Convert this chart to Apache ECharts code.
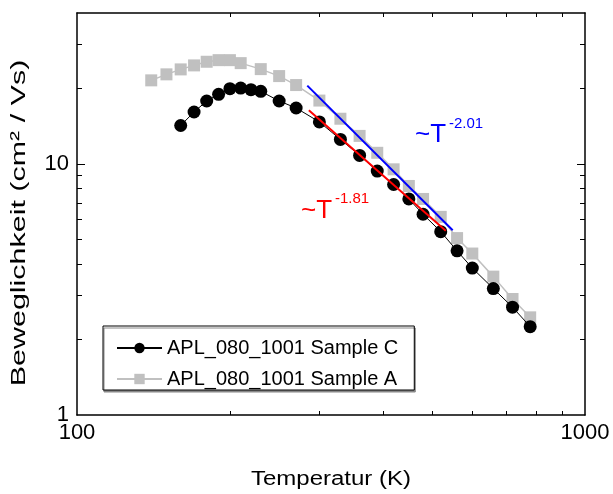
<!DOCTYPE html>
<html>
<head>
<meta charset="utf-8">
<script src="https://cdn.jsdelivr.net/npm/echarts@6/dist/echarts.min.js"></script>
<style>html,body{margin:0;padding:0;background:#fff;}#chart{width:613px;height:494px;}</style>
</head>
<body>
<div id="chart"></div>
<script>
// Sample C (black circles)
const tempC = [160,170,180,190,200,210,220,230,250,270,300,330,360,390,420,450,480,520,560,600,660,720,780];
const muC = [14.25,16.13,17.84,18.97,19.98,20.09,19.80,19.50,17.84,16.73,14.72,12.54,10.83,9.38,8.29,7.26,6.31,5.38,4.51,3.85,3.19,2.69,2.25];
// Sample A (grey squares)
const tempA = [140,150,160,170,180,190,200,210,230,250,270,300,330,360,390,420,450,480,520,560,600,660,720,780];
const muA = [21.56,22.78,23.84,24.73,25.57,25.95,25.95,25.25,23.9,22.42,20.65,17.91,15.16,12.95,11.09,9.53,8.18,7.26,6.16,5.07,4.40,3.56,2.90,2.45];
// Power-law fit lines (endpoints)
const fitBlueT = [284, 549];
const fitBlueMu = [20.54, 5.45];
const fitRedT = [286, 532];
const fitRedMu = [16.39, 5.42];
// ticks
const xLabels = [100, 1000];
const xMinor = [200,300,400,500,600,700,800,900];
const yLabels = [1, 10];
const yMajor = [10];
const yMinor = [2,3,4,5,6,7,8,9,20,30];
const seriesNames = ['APL_080_1001 Sample C', 'APL_080_1001 Sample A'];
const xTitle = 'Temperatur (K)';
const yTitle = 'Beweglichkeit (cm² / Vs)';
const fitLabels = [{base:'~T', exp:'-2.01'}, {base:'~T', exp:'-1.81'}];

const FONT = 'Liberation Sans, Arial, sans-serif';
const zip = (a, b) => a.map((v, i) => [v, b[i]]);

function xAx(pos, withLabels) {
  return {
    type: 'log', logBase: 10, min: 100, max: 1000, position: pos,
    gridIndex: 0,
    axisLine: {show: true, lineStyle: {color: '#000', width: 1.5}},
    axisTick: {show: true, inside: true, length: 4, customValues: xMinor, lineStyle: {color: '#000', width: 1}},
    axisLabel: withLabels ? {show: true, customValues: xLabels, fontSize: 22, color: '#000', fontFamily: FONT, margin: 7, formatter: v => String(v)} : {show: false},
    splitLine: {show: false},
    minorTick: {show: false}
  };
}
function yAx(pos, ticks, len, withLabels, showLine) {
  return {
    type: 'log', logBase: 10, min: 1, max: 40, position: pos,
    gridIndex: 0,
    axisLine: {show: showLine, lineStyle: {color: '#000', width: 1.5}},
    axisTick: {show: true, inside: true, length: len, customValues: ticks, lineStyle: {color: '#000', width: 1}},
    axisLabel: withLabels ? {show: true, customValues: yLabels, fontSize: 22, color: '#000', fontFamily: FONT, margin: 8, formatter: v => String(v)} : {show: false},
    splitLine: {show: false}
  };
}

const chart = echarts.init(document.getElementById('chart'), null, {renderer: 'canvas'});
chart.setOption({
  animation: false,
  backgroundColor: '#fff',
  grid: {left: 77, top: 13, width: 508, height: 402},
  xAxis: [xAx('bottom', true), xAx('top', false)],
  yAxis: [
    yAx('left', yMajor, 8, true, true),
    yAx('left', yMinor, 5, false, false),
    yAx('right', yMajor, 8, false, true),
    yAx('right', yMinor, 5, false, false)
  ],
  legend: {
    orient: 'vertical', left: 103, top: 326,
    padding: [12, 16, 1, 13],
    itemGap: 11, itemWidth: 45, itemHeight: 13,
    backgroundColor: '#fff', borderColor: '#000', borderWidth: 1,
    shadowColor: '#888', shadowOffsetX: 1, shadowOffsetY: 2, shadowBlur: 0,
    textStyle: {fontSize: 20, color: '#000', fontFamily: FONT, lineHeight: 20},
    data: seriesNames
  },
  series: [
    {
      name: seriesNames[1], type: 'line', xAxisIndex: 0, yAxisIndex: 0,
      data: zip(tempA, muA), symbol: 'rect', symbolSize: 12,
      itemStyle: {color: '#c0c0c0'}, lineStyle: {color: '#c0c0c0', width: 1.5}, z: 2
    },
    {
      name: seriesNames[0], type: 'line', xAxisIndex: 0, yAxisIndex: 0,
      data: zip(tempC, muC), symbol: 'circle', symbolSize: 13,
      itemStyle: {color: '#000'}, lineStyle: {color: '#000', width: 1}, z: 3
    },
    {
      name: 'fitA', type: 'line', xAxisIndex: 0, yAxisIndex: 0,
      data: zip(fitBlueT, fitBlueMu), symbol: 'none',
      lineStyle: {color: '#0000ff', width: 2}, z: 4
    },
    {
      name: 'fitC', type: 'line', xAxisIndex: 0, yAxisIndex: 0,
      data: zip(fitRedT, fitRedMu), symbol: 'none',
      lineStyle: {color: '#ff0000', width: 2}, z: 4
    }
  ],
  graphic: [
    {type: 'text', x: 331, y: 479, scaleX: 1.2, style: {text: xTitle, fill: '#000', fontSize: 20, fontFamily: FONT, verticalAlign: 'middle', align: 'center'}},
    {type: 'text', x: 19, y: 223, rotation: Math.PI / 2, scaleX: 1.45, style: {text: yTitle, fill: '#000', fontSize: 21, fontFamily: FONT, verticalAlign: 'middle', align: 'center'}},
    {type: 'text', x: 415, y: 135, style: {text: fitLabels[0].base, fill: '#0000ff', fontSize: 26, fontFamily: FONT, verticalAlign: 'middle', align: 'left'}},
    {type: 'text', x: 449, y: 124, style: {text: fitLabels[0].exp, fill: '#0000ff', fontSize: 15, fontFamily: FONT, verticalAlign: 'middle', align: 'left'}},
    {type: 'text', x: 301, y: 211, style: {text: fitLabels[1].base, fill: '#ff0000', fontSize: 26, fontFamily: FONT, verticalAlign: 'middle', align: 'left'}},
    {type: 'text', x: 335, y: 199, style: {text: fitLabels[1].exp, fill: '#ff0000', fontSize: 15, fontFamily: FONT, verticalAlign: 'middle', align: 'left'}}
  ]
});
</script>
</body>
</html>
